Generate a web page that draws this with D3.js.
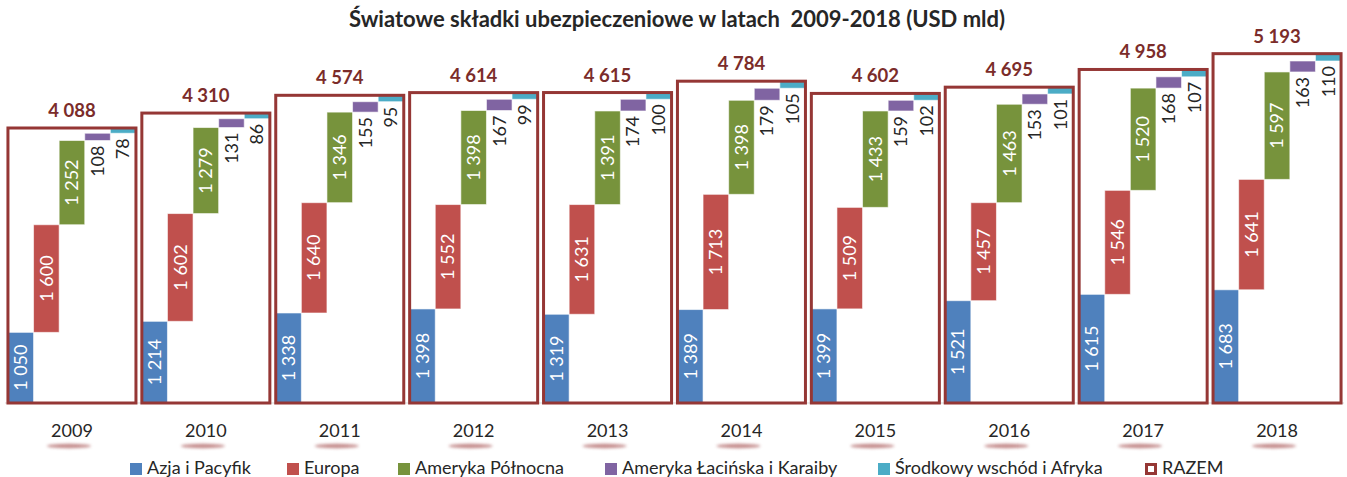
<!DOCTYPE html>
<html>
<head>
<meta charset="utf-8">
<script src="https://cdn.jsdelivr.net/npm/d3@7/dist/d3.min.js"></script>
<style>
  body { margin: 0; background: #fff; }
  svg { display: block; font-family: Lato, "Open Sans", sans-serif; }
</style>
</head>
<body>
<svg id="chart" width="1347" height="477"></svg>
<script>
// dane: składki w mld USD
var years = ['2009','2010','2011','2012','2013','2014','2015','2016','2017','2018'];
var seriesNames = ['Azja i Pacyfik','Europa','Ameryka Północna','Ameryka Łacińska i Karaiby','Środkowy wschód i Afryka'];
var azja = [1050,1214,1338,1398,1319,1389,1399,1521,1615,1683];
var europa = [1600,1602,1640,1552,1631,1713,1509,1457,1546,1641];
var amerykaPn = [1252,1279,1346,1398,1391,1398,1433,1463,1520,1597];
var amerykaLac = [108,131,155,167,174,179,159,153,168,163];
var bliskiWsch = [78,86,95,99,100,105,102,101,107,110];
var razem = [4088,4310,4574,4614,4615,4784,4602,4695,4958,5193];
var razemName = 'RAZEM';

var colors = ['#4f81bd','#c0504d','#77933c','#8064a2','#4bacc6'];
var seriesValues = [azja, europa, amerykaPn, amerykaLac, bliskiWsch];
// legend item positions (px)
var legendX = [130, 287, 398, 605, 878, 1145];

var fmt = d3.formatLocale({decimal: ',', thousands: ' ', grouping: [3], currency: ['', '']}).format(',d');

var svg = d3.select('#chart');

var x = d3.scaleBand().domain(years).range([5, 1344]).paddingInner(0.044).paddingOuter(0.022);
var xs = d3.scaleBand().domain(seriesNames).range([0, x.bandwidth()]);
var y = d3.scaleLinear().domain([0, 5500]).range([403, 403 - 5500 * 0.06727]);

// title
svg.append('text')
  .attr('x', 677).attr('y', 27)
  .attr('text-anchor', 'middle')
  .attr('font-size', '22px').attr('font-weight', 'bold')
  .attr('fill', '#262626')
  .attr('xml:space', 'preserve')
  .text('Światowe składki ubezpieczeniowe w latach  2009-2018 (USD mld)');

// axis line
svg.append('line')
  .attr('x1', 5).attr('x2', 1344)
  .attr('y1', y(0)).attr('y2', y(0))
  .attr('stroke', '#d9d9d9').attr('stroke-width', 1);

// waterfall segments per year
var segs = [];
years.forEach(function(yr, i){
  var acc = 0;
  seriesValues.forEach(function(vals, s){
    segs.push({year: yr, series: seriesNames[s], idx: s, y0: acc, y1: acc + vals[i], v: vals[i]});
    acc += vals[i];
  });
});

var gBars = svg.append('g');
gBars.selectAll('rect')
  .data(segs)
  .enter()
  .append('rect')
  .attr('x', function(d){ return x(d.year) + xs(d.series); })
  .attr('width', xs.bandwidth())
  .attr('y', function(d){ return y(d.y1); })
  .attr('height', function(d){ return y(d.y0) - y(d.y1); })
  .attr('fill', function(d){ return colors[d.idx]; })
  .attr('stroke', 'rgba(255,255,255,0.6)')
  .attr('stroke-width', 1);

// labels on segments
gBars.selectAll('text')
  .data(segs)
  .enter()
  .append('text')
  .attr('transform', function(d){
    var cx = x(d.year) + xs(d.series) + xs.bandwidth() / 2;
    var cy = d.idx < 3 ? (y(d.y0) + y(d.y1)) / 2 : y(d.y0) + 5;
    return 'translate(' + cx + ',' + cy + ') rotate(-90)';
  })
  .attr('text-anchor', function(d){ return d.idx < 3 ? 'middle' : 'end'; })
  .attr('dy', '0.35em')
  .attr('font-size', '18px')
  .attr('fill', function(d){ return d.idx < 3 ? '#ffffff' : '#262626'; })
  .text(function(d){ return fmt(d.v); });

// RAZEM boxes
var gTot = svg.append('g');
gTot.selectAll('rect')
  .data(razem)
  .enter()
  .append('rect')
  .attr('x', function(d, i){ return x(years[i]); })
  .attr('width', x.bandwidth())
  .attr('y', function(d){ return y(d); })
  .attr('height', function(d){ return y(0) - y(d); })
  .attr('fill', 'none')
  .attr('stroke', '#953735')
  .attr('stroke-width', 3);

gTot.selectAll('text')
  .data(razem)
  .enter()
  .append('text')
  .attr('x', function(d, i){ return x(years[i]) + x.bandwidth() / 2; })
  .attr('y', function(d){ return y(d) - 11; })
  .attr('text-anchor', 'middle')
  .attr('font-size', '18.5px').attr('font-weight', 'bold')
  .attr('fill', '#7b2c2a')
  .text(function(d){ return fmt(d); });

// year labels with soft reflection
var defs = svg.append('defs');
defs.append('filter').attr('id', 'blur')
  .attr('x', '-50%').attr('y', '-200%').attr('width', '200%').attr('height', '500%')
  .append('feGaussianBlur').attr('stdDeviation', 1.8);

var gYears = svg.append('g');
gYears.selectAll('ellipse')
  .data(years)
  .enter()
  .append('ellipse')
  .attr('cx', function(d){ return x(d) + x.bandwidth() / 2 - 3; })
  .attr('cy', 446)
  .attr('rx', 22).attr('ry', 2.2)
  .attr('fill', '#b06565')
  .attr('opacity', 0.75)
  .attr('filter', 'url(#blur)');

gYears.selectAll('text')
  .data(years)
  .enter()
  .append('text')
  .attr('x', function(d){ return x(d) + x.bandwidth() / 2; })
  .attr('y', 437)
  .attr('text-anchor', 'middle')
  .attr('font-size', '18px')
  .attr('fill', '#262626')
  .text(function(d){ return d; });

// legend
var legendItems = seriesNames.map(function(n, i){ return {name: n, color: colors[i], box: false}; });
legendItems.push({name: razemName, color: '#953735', box: true});
var lg = svg.append('g').selectAll('g')
  .data(legendItems)
  .enter()
  .append('g')
  .attr('transform', function(d, i){ return 'translate(' + legendX[i] + ',0)'; });
lg.append('rect')
  .attr('x', function(d){ return d.box ? 1.5 : 0; })
  .attr('y', function(d){ return d.box ? 464.5 : 463; })
  .attr('width', function(d){ return d.box ? 9 : 12; })
  .attr('height', function(d){ return d.box ? 9 : 12; })
  .attr('fill', function(d){ return d.box ? 'none' : d.color; })
  .attr('stroke', function(d){ return d.box ? d.color : 'none'; })
  .attr('stroke-width', 3);
lg.append('text')
  .attr('x', 17).attr('y', 474)
  .attr('font-size', '18px').attr('fill', '#262626')
  .text(function(d){ return d.name; });
</script>
</body>
</html>
